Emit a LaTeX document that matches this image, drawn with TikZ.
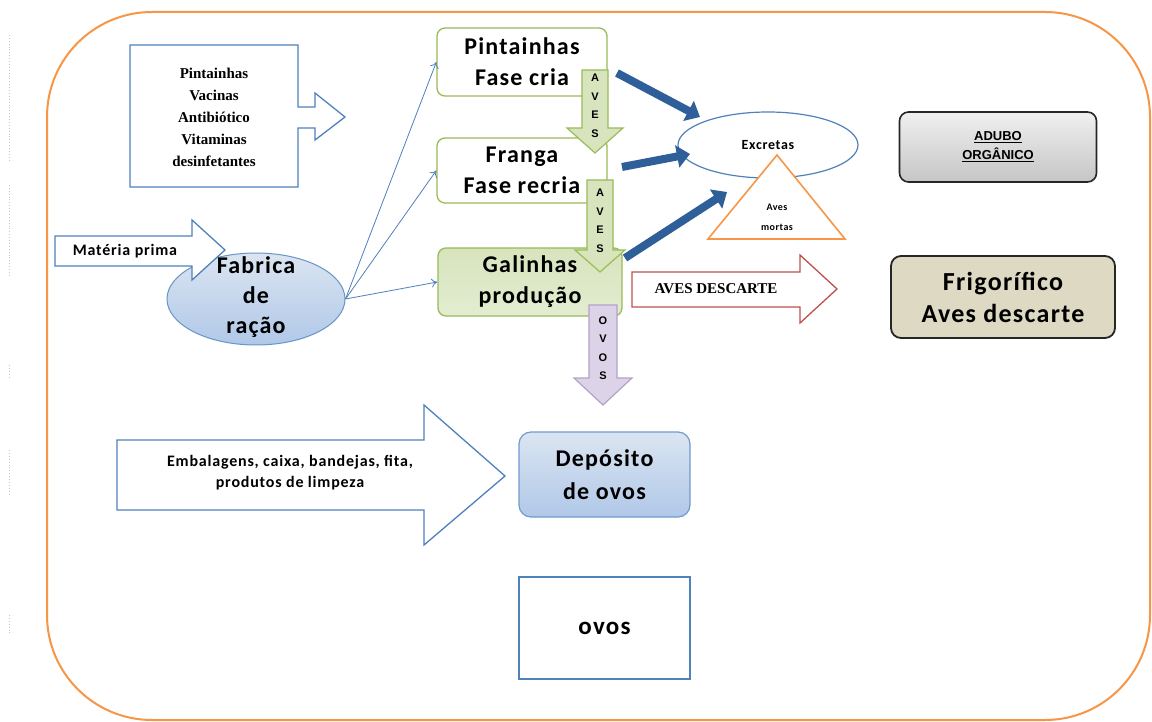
\documentclass[tikz,border=0pt]{standalone}
\usepackage{fontspec}
\setmainfont{Carlito}
\newfontfamily\lsp[LetterSpace=5]{Carlito}
\newfontfamily\serb{Liberation Serif}
\newfontfamily\sansb{Liberation Sans}
\usetikzlibrary{arrows.meta,shapes.geometric}
\definecolor{cBlue}{HTML}{4F81BD}
\definecolor{cGreen}{HTML}{9BBB59}
\definecolor{cGreenF}{HTML}{D7E4BD}
\definecolor{cGreenL}{HTML}{EBF1DE}
\definecolor{cPurp}{HTML}{B3A2C7}
\definecolor{cPurpF}{HTML}{DCD3E8}
\definecolor{cOrange}{HTML}{F79646}
\definecolor{cRed}{HTML}{C0504D}
\definecolor{cNavy}{HTML}{2F5F98}
\definecolor{cBeige}{HTML}{DDD9C3}
\definecolor{cLBlue}{HTML}{B0C8E8}
\definecolor{cLBlue2}{HTML}{DBE5F1}
\tikzset{
  big/.style={font=\lsp\bfseries\fontsize{24}{31}\selectfont, align=center, inner sep=0},
  serlist/.style={font=\serb\bfseries\fontsize{15}{22}\selectfont, align=center, inner sep=0},
  lettr/.style={font=\sansb\bfseries\fontsize{11}{18.5}\selectfont, align=center, inner sep=0},
  smalltxt/.style={font=\lsp\bfseries\fontsize{16}{18}\selectfont, align=center, inner sep=0},
  shapeline/.style={line width=1.3, fill=white},
  greenbox/.style={draw=cGreen, line width=1.3, rounded corners=8, big},
  thin/.style={cBlue, line width=0.8, -{To[length=6,width=9]}},
  fat/.style={cNavy, line width=8, -{Triangle[length=13,width=22]}},
}
\begin{document}
\begin{tikzpicture}[x=1pt,y=-1pt]
\useasboundingbox (0,0) rectangle (1152,722);
\fill[white] (0,0) rectangle (1152,722);

% faint dotted margin line
\draw[gray!45, dotted, line width=0.9] (9,35) -- (9,160) (9,185) -- (9,275) (9,365) -- (9,378) (9,450) -- (9,495) (9,615) -- (9,635);

% outer frame
\draw[cOrange, line width=2, rounded corners=105] (47,12) rectangle (1150,720);

% inputs callout box
\draw[cBlue, shapeline] (130,45) -- (298,45) -- (298,107) -- (315,107) -- (315,93) -- (345,117) -- (315,140) -- (315,128) -- (298,128) -- (298,187) -- (130,187) -- cycle;
\node[serlist] (inputs) at (214,117) {Pintainhas\\Vacinas\\Antibiótico\\Vitaminas\\desinfetantes};

% feed factory ellipse
\node[ellipse, draw=cBlue!85, line width=1, top color=cLBlue2, bottom color=cLBlue, minimum width=178, minimum height=92, inner sep=0] (fab) at (256,299) {};
% raw material arrow
\draw[cBlue, shapeline] (55,236) -- (192,236) -- (192,220) -- (225,250) -- (192,280) -- (192,266) -- (55,266) -- cycle;
\node[smalltxt] (mp) at (125,251) {Matéria prima};
\node[big, font=\lsp\bfseries\fontsize{24}{30}\selectfont] (fabt) at (256,297) {Fabrica\\de\\ração};

% production boxes
\node[greenbox, fill=white, minimum width=170, minimum height=68] (pint) at (522,62) {Pintainhas\\Fase cria};
\node[greenbox, fill=white, minimum width=170, minimum height=65] (fran) at (522,170.5) {Franga\\Fase recria};
\node[greenbox, top color=cGreenF, bottom color=cGreenF!70!white, minimum width=184, minimum height=68] (gal) at (530,282) {Galinhas\\produção};

% feed connectors
\draw[thin] (fab.east) -- (pint.west);
\draw[thin] (fab.east) -- (fran.west);
\draw[thin] (fab.east) -- (gal.west);

% AVES arrows
\draw[draw=cGreen, line width=1.2, fill=cGreenF] (582,70) -- (608,70) -- (608,128) -- (623,128) -- (595,153) -- (567,128) -- (582,128) -- cycle;
\node[lettr] (aves1) at (595,106) {A\\V\\E\\S};
\draw[draw=cGreen, line width=1.2, fill=cGreenF] (587,180) -- (613,180) -- (613,250) -- (625,250) -- (600,272) -- (575,250) -- (587,250) -- cycle;
\node[lettr] (aves2) at (600,221) {A\\V\\E\\S};
% OVOS arrow
\draw[draw=cPurp, line width=1.2, fill=cPurpF] (589,305) -- (617,305) -- (617,378) -- (632,378) -- (603,405) -- (574,378) -- (589,378) -- cycle;
\node[lettr] (ovos1) at (603,348) {O\\V\\O\\S};

% excretas and dead birds
\node[ellipse, draw=cBlue, line width=1.2, fill=white, minimum width=180, minimum height=66, inner sep=0, font=\lsp\bfseries\fontsize{14}{15}\selectfont] (exc) at (768,145) {Excretas};
\draw[cOrange, line width=1.6, fill=white] (777,155) -- (845,239) -- (708,239) -- cycle;
\node[font=\lsp\bfseries\fontsize{10}{20}\selectfont, align=center, inner sep=0] (mort) at (777,217) {Aves\\mortas};

% thick arrows to excretas
\coordinate (f1s) at (617,73);  \coordinate (f1e) at (700,117);
\coordinate (f2s) at (622,167); \coordinate (f2e) at (690,154);
\coordinate (f3s) at (625,258); \coordinate (f3e) at (727,192);
\draw[fat] (f1s) -- (f1e);
\draw[fat] (f2s) -- (f2e);
\draw[fat] (f3s) -- (f3e);

% AVES DESCARTE arrow
\draw[cRed, shapeline] (632,272) -- (800,272) -- (800,255) -- (837,289) -- (800,323) -- (800,307) -- (632,307) -- cycle;
\node[font=\serb\bfseries\fontsize{15}{18}\selectfont, inner sep=0] (desc) at (716,289) {AVES DESCARTE};

% right boxes
\node[draw=black!85, line width=1.6, rounded corners=9, top color=gray!12, bottom color=gray!45, minimum width=197, minimum height=70, align=center, font=\sansb\bfseries\fontsize{13}{19}\selectfont] (adubo) at (998,147) {\underline{ADUBO}\\\underline{ORGÂNICO}};
\node[draw=black!85, line width=1.8, rounded corners=10, fill=cBeige, minimum width=224, minimum height=82, big, font=\lsp\bfseries\fontsize{26}{32}\selectfont] (frig) at (1003,297) {Frigorífico\\Aves descarte};

% packaging arrow
\draw[cBlue, shapeline] (117,440) -- (424,440) -- (424,405) -- (505,476) -- (424,545) -- (424,510) -- (117,510) -- cycle;
\node[font=\lsp\bfseries\fontsize{16}{21}\selectfont, align=center, inner sep=0] (emb) at (290,473) {Embalagens, caixa, bandejas, fita,\\produtos de limpeza};

% deposit and eggs
\node[draw=cBlue!80, line width=1.2, rounded corners=12, top color=cLBlue2, bottom color=cLBlue, minimum width=171, minimum height=85, big, font=\lsp\bfseries\fontsize{24}{33}\selectfont] (dep) at (604.5,474.5) {Depósito\\de ovos};
\node[draw=cBlue, line width=1.5, fill=white, minimum width=171, minimum height=102, font=\lsp\bfseries\fontsize{25}{30}\selectfont] (ovos) at (604.5,628) {ovos};
\end{tikzpicture}
\end{document}
